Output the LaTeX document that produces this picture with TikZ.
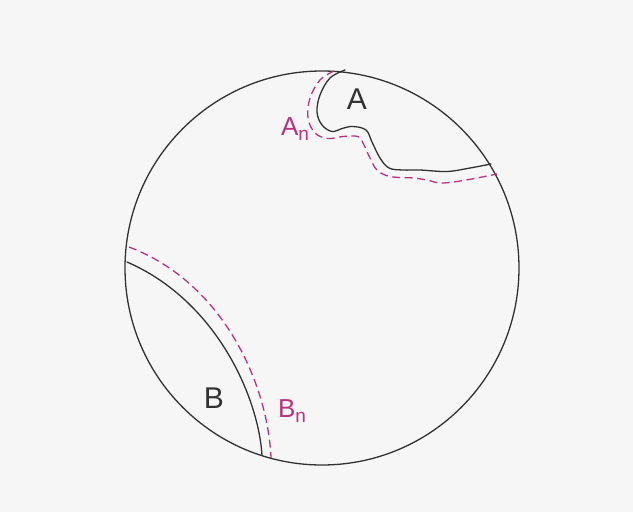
\documentclass[tikz,border=0pt]{standalone}
\usepackage{fontspec}
\setmainfont{Liberation Sans}
\usepackage{tikz}
\usetikzlibrary{positioning, calc}

\definecolor{paper}{RGB}{246,246,246}
\definecolor{pencil}{RGB}{50,50,50}
\definecolor{nbhd}{RGB}{185,50,125}

\begin{document}
\begin{tikzpicture}[x=1pt, y=-1pt]
    \tikzset{
        region edge/.style={
                color=pencil, line width=1.3pt, line cap=round, line join=round
            },
        nbhd curve/.style={
                color=nbhd, line width=1.3pt, dash pattern=on 8pt off 4.5pt
            },
        region label/.style={
                font=\fontsize{30}{30}\selectfont, text=pencil, inner sep=0pt
            },
        nbhd label/.style={
                font=\fontsize{26}{26}\selectfont, text=nbhd, inner sep=0pt
            }
    }

    \fill[paper] (0,0) rectangle (633,512);
    \useasboundingbox (0,0) rectangle (633,512);

    % the disc
    \draw[region edge] (322,268) circle (197);

    % region A and its neighbourhood
    \draw[region edge] plot[smooth, tension=0.6] coordinates {
            (345,70) (330,78) (320,95) (317,112) (322,125) (332,131.5)
            (342,128.5) (353,126.5) (366,130) (372,142) (380,158)
            (389,168) (403,170) (420,170) (447,171.5) (470,168) (491,164)};
    \draw[nbhd curve] plot[smooth, tension=0.6] coordinates {
            (334,71) (320,80) (310,98) (308,118) (315,133) (328,138.5)
            (343,136.5) (358,136.5) (363,143) (370,158) (377,170)
            (390,176.5) (413,178) (427,180) (440,183) (457,181.5)
            (477,178) (497,174)};
    \node[region label] (labA) at (357,99) {A};
    \node[nbhd label] (labAn) at (295,129) {A\raisebox{-5pt}{\fontsize{19}{19}\selectfont n}};

    % region B and its neighbourhood
    \draw[region edge] (127,262) .. controls (215,300) and (258,395) .. (262,455);
    \draw[nbhd curve] (129,247) .. controls (224,283) and (268,385) .. (271,458);
    \node[region label] (labB) at (214,398) {B};
    \node[nbhd label] (labBn) at (292,411) {B\raisebox{-5pt}{\fontsize{19}{19}\selectfont n}};
\end{tikzpicture}
\end{document}
